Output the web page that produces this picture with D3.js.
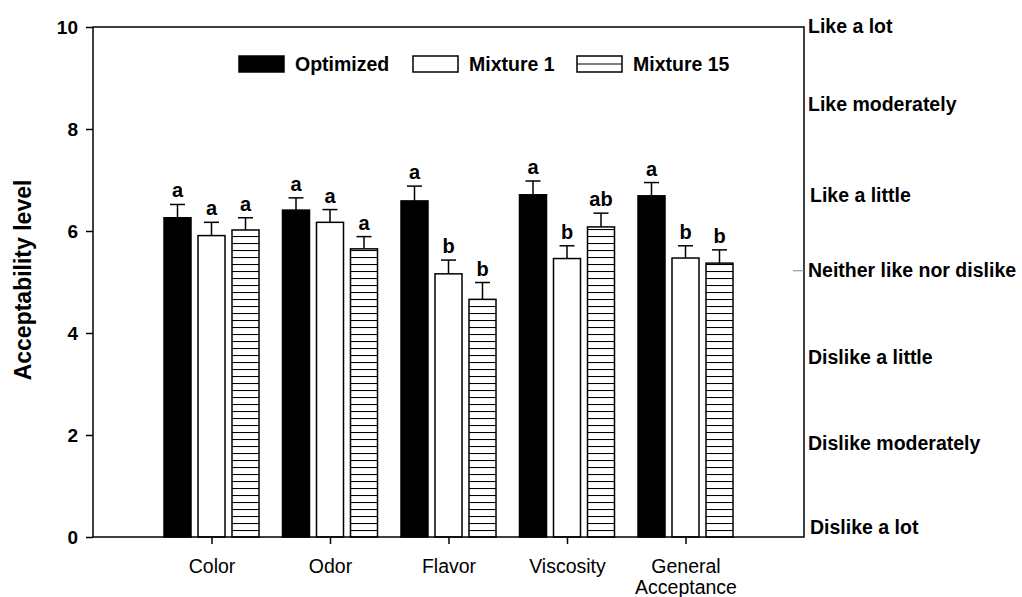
<!DOCTYPE html>
<html>
<head>
<meta charset="utf-8">
<script src="https://cdn.jsdelivr.net/npm/d3@7"></script>
<style>
  html, body { margin: 0; padding: 0; background: #fff; }
  svg { display: block; }
  text { font-family: "Liberation Sans", Arial, sans-serif; fill: #000; }
</style>
</head>
<body>
<svg id="chart" width="1022" height="597"></svg>
<script>
// ---- data ----
const categories = ["Color", "Odor", "Flavor", "Viscosity", "General Acceptance"];
const seriesNames = ["Optimized", "Mixture 1", "Mixture 15"];
const optimized    = [6.26, 6.41, 6.59, 6.71, 6.69];
const optimizedErr = [0.26, 0.24, 0.29, 0.27, 0.26];
const mixture1     = [5.91, 6.17, 5.16, 5.46, 5.47];
const mixture1Err  = [0.26, 0.25, 0.27, 0.25, 0.24];
const mixture15    = [6.02, 5.65, 4.66, 6.08, 5.37];
const mixture15Err = [0.24, 0.24, 0.33, 0.27, 0.26];
const optimizedLetters = ["a", "a", "a", "a", "a"];
const mixture1Letters  = ["a", "a", "b", "b", "b"];
const mixture15Letters = ["a", "a", "b", "ab", "b"];
const yTicks = [0, 2, 4, 6, 8, 10];
const hedonicLabels = ["Like a lot", "Like moderately", "Like a little", "Neither like nor dislike",
                       "Dislike a little", "Dislike moderately", "Dislike a lot"];
const hedonicLevels = [10.02, 8.49, 6.70, 5.24, 3.53, 1.84, 0.20];

const seriesValues = [optimized, mixture1, mixture15];
const seriesErrors = [optimizedErr, mixture1Err, mixture15Err];
const seriesLetters = [optimizedLetters, mixture1Letters, mixture15Letters];
const seriesFill = ["#000", "#fff", "url(#hatch)"];

// ---- layout ----
const L = 93, R = 804, T = 27, B = 537;
const svg = d3.select("#chart");

const defs = svg.append("defs");
const pat = defs.append("pattern").attr("id", "hatch")
  .attr("patternUnits", "userSpaceOnUse").attr("width", 8).attr("height", 7)
  .attr("y", B);
pat.append("rect").attr("width", 8).attr("height", 7).attr("fill", "#fff");
pat.append("line").attr("x1", 0).attr("x2", 8).attr("y1", 0.5).attr("y2", 0.5)
  .attr("stroke", "#000").attr("stroke-width", 1.1);

const x = d3.scalePoint().domain(categories).range([L, R]).padding(1);
const y = d3.scaleLinear().domain([0, 10]).range([B, T]);
const offset = d3.scalePoint().domain(seriesNames).range([-34, 34]);
const barW = 27;

// bars
seriesNames.forEach((s, si) => {
  const g = svg.append("g");
  const data = categories.map((c, i) => ({c, v: seriesValues[si][i], e: seriesErrors[si][i], l: seriesLetters[si][i]}));
  g.selectAll("line.err").data(data).join("line")
    .attr("x1", d => x(d.c) + offset(s)).attr("x2", d => x(d.c) + offset(s))
    .attr("y1", d => y(d.v)).attr("y2", d => y(d.v + d.e))
    .attr("stroke", "#000").attr("stroke-width", 1.5);
  g.selectAll("line.cap").data(data).join("line")
    .attr("x1", d => x(d.c) + offset(s) - 7.5).attr("x2", d => x(d.c) + offset(s) + 7.5)
    .attr("y1", d => y(d.v + d.e)).attr("y2", d => y(d.v + d.e))
    .attr("stroke", "#000").attr("stroke-width", 1.5);
  g.selectAll("rect").data(data).join("rect")
    .attr("x", d => x(d.c) + offset(s) - barW / 2)
    .attr("y", d => y(d.v))
    .attr("width", barW)
    .attr("height", d => y(0) - y(d.v))
    .attr("fill", seriesFill[si])
    .attr("stroke", "#000").attr("stroke-width", 1.5);
  g.selectAll("text").data(data).join("text")
    .attr("x", d => x(d.c) + offset(s))
    .attr("y", d => y(d.v + d.e) - 7)
    .attr("text-anchor", "middle")
    .attr("font-weight", "bold").attr("font-size", 20)
    .text(d => d.l);
});

// frame
svg.append("rect").attr("x", L).attr("y", T).attr("width", R - L).attr("height", B - T)
  .attr("fill", "none").attr("stroke", "#000").attr("stroke-width", 1.5);

// left axis
const yAxis = svg.append("g").attr("transform", `translate(${L},0)`)
  .call(d3.axisLeft(y).tickValues(yTicks).tickSize(7).tickPadding(8).tickFormat(d3.format("d")));
yAxis.select(".domain").remove();
yAxis.selectAll(".tick line").attr("stroke", "#000").attr("stroke-width", 1.5);
yAxis.selectAll(".tick text").attr("font-weight", "bold").attr("font-size", 19)
  .attr("font-family", "Liberation Sans, Arial, sans-serif").attr("fill", "#000");

// bottom axis
const xAxis = svg.append("g").attr("transform", `translate(0,${B})`)
  .call(d3.axisBottom(x).tickSize(7).tickPadding(10).tickFormat(() => ""));
xAxis.select(".domain").remove();
xAxis.selectAll(".tick line").attr("stroke", "#000").attr("stroke-width", 1.5);
xAxis.selectAll(".tick").each(function(d) {
  const words = d === "General Acceptance" ? ["General", "Acceptance"] : [d];
  const t = d3.select(this).append("text").attr("text-anchor", "middle")
    .attr("font-size", 19.5).attr("fill", "#000")
    .attr("font-family", "Liberation Sans, Arial, sans-serif");
  words.forEach((w, i) => t.append("tspan").attr("x", 0).attr("y", 36 + i * 21).text(w));
});

// y axis title
svg.append("text")
  .attr("transform", `translate(31,280) rotate(-90)`)
  .attr("text-anchor", "middle").attr("font-weight", "bold").attr("font-size", 23)
  .text("Acceptability level");

// right hedonic labels
svg.append("line").attr("x1", R - 11).attr("x2", R).attr("y1", y(hedonicLevels[3]) + 1).attr("y2", y(hedonicLevels[3]) + 1)
  .attr("stroke", "#888").attr("stroke-width", 1);
svg.append("g").selectAll("text").data(hedonicLabels).join("text")
  .attr("x", (d, i) => (i === 2 || i === 6) ? R + 6 : R + 4)
  .attr("y", (d, i) => y(hedonicLevels[i]))
  .attr("dy", "0.35em")
  .attr("font-weight", "bold").attr("font-size", 19.5)
  .text(d => d);

// legend
const legX = [239, 413, 577];
const lg = svg.append("g");
seriesNames.forEach((s, i) => {
  const g = lg.append("g").attr("transform", `translate(${legX[i]},56)`);
  g.append("rect").attr("width", 45).attr("height", 16)
    .attr("fill", i === 0 ? "#000" : "#fff").attr("stroke", "#000").attr("stroke-width", 1.5);
  if (i === 2) g.append("line").attr("x1", 0).attr("x2", 45).attr("y1", 8).attr("y2", 8)
    .attr("stroke", "#000").attr("stroke-width", 1.2);
  g.append("text").attr("x", 56).attr("y", 8).attr("dy", "0.36em")
    .attr("font-weight", "bold").attr("font-size", 19.5).text(s);
});
</script>
</body>
</html>
